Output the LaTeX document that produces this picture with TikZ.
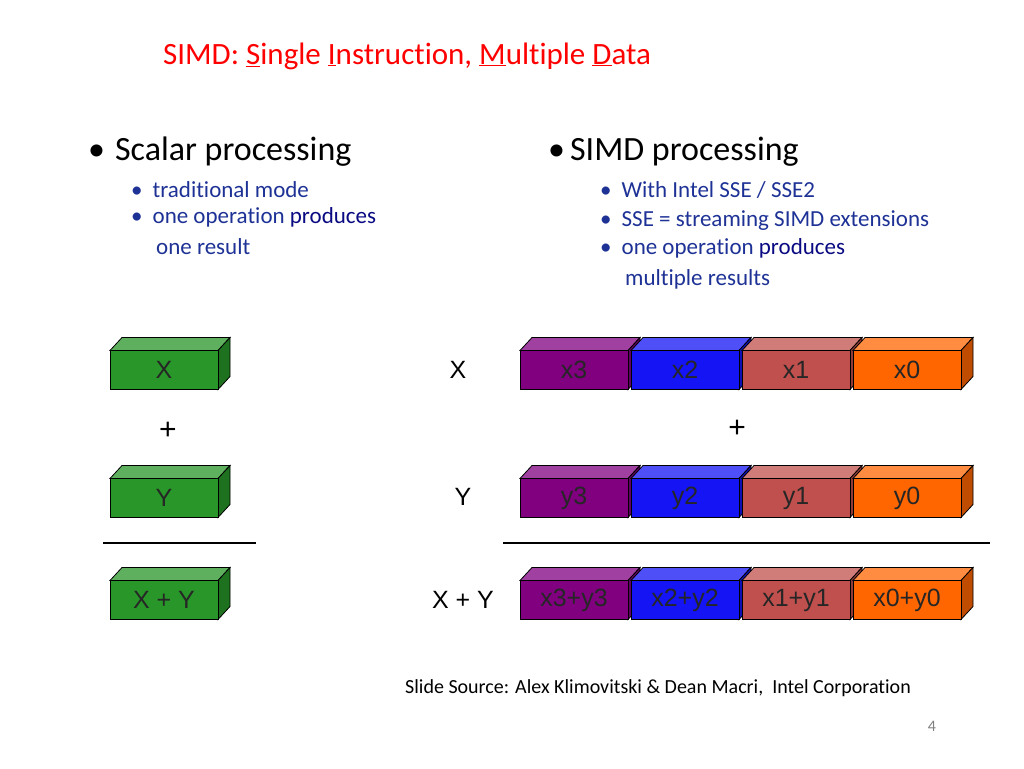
\documentclass[tikz,border=0pt]{standalone}
\usepackage{fontspec}
\setmainfont[Ligatures=NoCommon]{Carlito}
\newfontfamily\arialf{Liberation Sans}
\definecolor{cg}{RGB}{40,150,40}
\definecolor{cp}{RGB}{128,0,128}
\definecolor{cb}{RGB}{20,20,245}
\definecolor{cr}{RGB}{192,80,77}
\definecolor{co}{RGB}{255,102,0}
\definecolor{sb}{RGB}{30,50,150}
\definecolor{nv}{RGB}{10,10,130}
\tikzset{face/.style={draw=black,line width=0.8pt,minimum width=108pt,minimum height=39pt,inner sep=0pt,font=\arialf\fontsize{25}{25}\selectfont,text=black!85},
lbl/.style={font=\arialf\fontsize{25}{25}\selectfont,inner sep=0pt},
sub/.style={anchor=west,align=left,font=\fontsize{23}{31}\selectfont,text=sb,inner sep=0pt}}
\newcommand{\cube}[5]{%
 \filldraw[line width=0.8pt,fill=#4!75!white] (#2-54,#3-19.5) -- ++(12,-13) -- ++(108,0) -- ++(-12,13) -- cycle;
 \filldraw[line width=0.8pt,fill=#4!75!black] (#2+54,#3-19.5) -- ++(12,-13) -- ++(0,39) -- ++(-12,13) -- cycle;
 \node[face,fill=#4] (#1) at (#2,#3) {#5};}
\begin{document}
\begin{tikzpicture}[x=1pt,y=-1pt]
\useasboundingbox (0,0) rectangle (1024,768);
\node[anchor=west,text=red,font=\fontsize{31}{31}\selectfont,inner sep=0pt] (title) at (163,56) {SIMD: \underline{S}ingle \underline{I}nstruction, \underline{M}ultiple \underline{D}ata};
\node[anchor=west,font=\fontsize{34}{34}\selectfont,inner sep=0pt] (sp) at (88,152) {\textbullet\hspace{10pt}Scalar processing};
\node[sub] (s1) at (131,190) {\textbullet\hspace{10pt}traditional mode};
\node[sub,anchor=north west] (s2) at (131,207) {\textbullet\hspace{10pt}one operation \textcolor{nv}{produces}\\\hspace{25pt}one result};
\node[anchor=west,font=\fontsize{34}{34}\selectfont,inner sep=0pt] (mp) at (548,152) {\textbullet\hspace{5pt}SIMD processing};
\node[sub] (m1) at (600,190) {\textbullet\hspace{10pt}With Intel SSE / SSE2};
\node[sub] (m2) at (600,221) {\textbullet\hspace{10pt}SSE = streaming SIMD extensions};
\node[sub,anchor=north west] (m3) at (600,238) {\textbullet\hspace{10pt}one operation \textcolor{nv}{produces}\\\hspace{25pt}multiple results};
\cube{sx}{164}{370}{cg}{X}
\cube{sy}{164}{498}{cg}{Y}
\cube{ss}{164}{600}{cg}{X + Y}
\node[lbl,font=\arialf\fontsize{30}{30}\selectfont] (pl1) at (168,431) {+};
\node[lbl,font=\arialf\fontsize{30}{30}\selectfont] (pl2) at (737,429) {+};
\node[lbl] (lx) at (458,370) {X};
\node[lbl] (ly) at (463,497) {Y};
\node[lbl] (lxy) at (463,600) {X + Y};
\cube{x3}{574}{370}{cp}{x3}
\cube{x2}{685}{370}{cb}{x2}
\cube{x1}{796}{370}{cr}{x1}
\cube{x0}{907}{370}{co}{x0}
\cube{y3}{574}{498}{cp}{y3}
\cube{y2}{685}{498}{cb}{y2}
\cube{y1}{796}{498}{cr}{y1}
\cube{y0}{907}{498}{co}{y0}
\cube{z3}{574}{600}{cp}{x3+y3}
\cube{z2}{685}{600}{cb}{x2+y2}
\cube{z1}{796}{600}{cr}{x1+y1}
\cube{z0}{907}{600}{co}{x0+y0}
\coordinate (la) at (103,543); \coordinate (lb) at (256,543);
\coordinate (lc) at (503,543); \coordinate (ld) at (990,543);
\draw[line width=2pt] (la) -- (lb);
\draw[line width=2pt] (lc) -- (ld);
\node[anchor=west,font=\fontsize{20}{20}\selectfont,inner sep=0pt] (src) at (405,688) {Slide Source: Alex Klimovitski \& Dean Macri,~ Intel Corporation};
\node[text=gray,font=\fontsize{16}{16}\selectfont,inner sep=0pt] (pg) at (932,726) {4};
\end{tikzpicture}
\end{document}
